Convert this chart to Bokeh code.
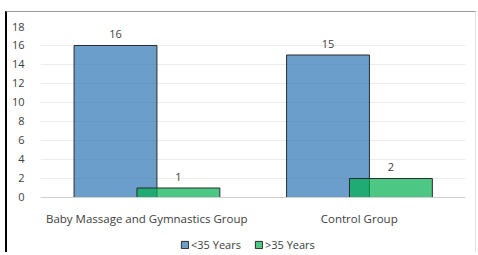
from bokeh.plotting import figure
from bokeh.core.properties import value
from bokeh.models import (ColumnDataSource, FactorRange, Range1d, FixedTicker,
                          LabelSet, Legend, LegendItem)
from bokeh.transform import dodge
from bokeh.embed import file_html
from bokeh.resources import INLINE

groups = ["Baby Massage and Gymnastics Group", "Control Group"]
under_35 = [16, 15]
over_35 = [1, 2]
series_names = ["<35 Years", ">35 Years"]
y_ticks = [0, 2, 4, 6, 8, 10, 12, 14, 16, 18]

src = ColumnDataSource(dict(group=groups, under=under_35, over=over_35,
                            under_lbl=[str(v) for v in under_35],
                            over_lbl=[str(v) for v in over_35]))

FONT = "Open Sans"
TXT = "#404040"

# frame extends below zero so the legend can sit inside it; x axis drawn at y=0
p = figure(x_range=FactorRange(*groups, range_padding=0), y_range=Range1d(-5.79, 18),
           frame_width=425, frame_height=226, output_backend="svg", toolbar_location=None,
           min_border_left=33, min_border_right=10, min_border_top=14, min_border_bottom=0)
p.outline_line_color = None

r1 = p.vbar(x=dodge("group", -0.147, range=p.x_range), top="under", width=0.39, source=src,
            fill_color="#2E75B6", fill_alpha=0.7, line_color="#2b2b2b", line_width=1)
r2 = p.vbar(x=dodge("group", 0.149, range=p.x_range), top="over", width=0.39, source=src,
            fill_color="#00B050", fill_alpha=0.7, line_color="#2b2b2b", line_width=1)

for col, off in (("under", -0.147), ("over", 0.149)):
    p.add_layout(LabelSet(x=dodge("group", off, range=p.x_range), y=col, text=col + "_lbl",
                          source=src, text_align="center", text_baseline="bottom", y_offset=7,
                          text_font=value(FONT), text_font_size="11px", text_color=TXT))

p.yaxis.ticker = FixedTicker(ticks=y_ticks)
p.yaxis.axis_line_color = None
p.yaxis.major_tick_line_color = None
p.yaxis.minor_tick_line_color = None
p.yaxis.major_label_standoff = 10
p.yaxis.major_label_text_font = FONT
p.yaxis.major_label_text_font_size = "11px"
p.yaxis.major_label_text_color = TXT

p.xaxis.fixed_location = 0
p.xaxis.axis_line_color = "#d0d0d0"
p.xaxis.major_tick_line_color = None
p.xaxis.minor_tick_line_color = None
p.xaxis.major_label_standoff = 8
p.xaxis.major_label_text_font = FONT
p.xaxis.major_label_text_font_size = "11.5px"
p.xaxis.major_label_text_color = TXT

p.xgrid.grid_line_color = None
p.ygrid.grid_line_color = "#ececec"

legend = Legend(items=[LegendItem(label=series_names[0], renderers=[r1]),
                       LegendItem(label=series_names[1], renderers=[r2])],
                orientation="horizontal", location=(140, 0),
                glyph_width=9, glyph_height=9, label_standoff=2, spacing=13,
                padding=0, margin=0, border_line_color=None, background_fill_alpha=0,
                label_text_font=FONT, label_text_font_size="11px", label_text_color=TXT)
p.add_layout(legend)

p.styles = {"margin-left": "5px", "margin-top": "11px",
            "border-left": "2px solid #000", "border-top": "1px solid #999",
            "border-right": "1px solid #e2e2e2"}

open("out.html", "w").write(file_html(p, INLINE))
